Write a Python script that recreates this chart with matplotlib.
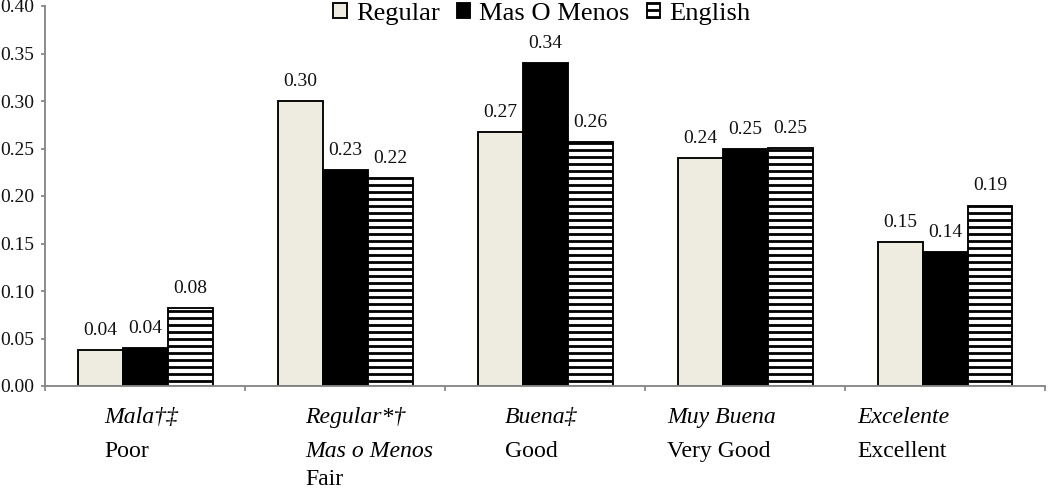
import numpy as np
import matplotlib
matplotlib.use("Agg")
import matplotlib.pyplot as plt
from matplotlib import transforms

# data
spanish_labels = [["Mala†‡"], ["Regular*†", "Mas o Menos"], ["Buena‡"], ["Muy Buena"], ["Excelente"]]
english_labels = ["Poor", "Fair", "Good", "Very Good", "Excellent"]
series_names = ["Regular", "Mas O Menos", "English"]
regular = [0.038, 0.300, 0.267, 0.240, 0.152]
mas_o_menos = [0.040, 0.227, 0.340, 0.249, 0.141]
english = [0.082, 0.219, 0.257, 0.251, 0.190]
y_ticks = [0.00, 0.05, 0.10, 0.15, 0.20, 0.25, 0.30, 0.35, 0.40]

# layout
DPI = 84
W, H = 1050, 489
PX = 72.0 / DPI  # points per pixel
label_shift = [-0.205, -0.20, -0.20, -0.39, -0.44]  # left edge of category text
line_baselines = [423, 457, 485]  # pixels from top

plt.rcParams["font.family"] = ["Liberation Serif", "DejaVu Serif"]
plt.rcParams["hatch.linewidth"] = 2.4

fig = plt.figure(figsize=(W / DPI, H / DPI), dpi=DPI)
ax = fig.add_axes([45 / W, (H - 386) / H, 1000 / W, 380 / H])

x = np.arange(len(english_labels))
bw = 0.225
styles = [
    dict(color="#EEECE1", edgecolor="black"),
    dict(color="black", edgecolor="black"),
    dict(color="white", edgecolor="black", hatch="--"),
]
for k, (vals, name, st) in enumerate(zip([regular, mas_o_menos, english], series_names, styles)):
    pos = x + (k - 1) * bw
    ax.bar(pos, vals, width=bw, linewidth=1.6, label=name, zorder=2, **st)
    for xi, v in zip(pos, vals):
        ax.annotate(f"{v:.2f}", (xi, v), xytext=(0, 11 * PX), textcoords="offset points",
                    ha="center", va="bottom", fontsize=19.5 * PX, color="#111111")

ax.set_xlim(-0.5, 4.5)
ax.set_ylim(0, 0.40)
ax.set_yticks(y_ticks)
ax.set_yticklabels([f"{t:.2f}" for t in y_ticks])
ax.set_xticks(np.arange(-0.5, 5.0, 1.0))
ax.set_xticklabels([])

grey = "#868686"
for s in ["top", "right"]:
    ax.spines[s].set_visible(False)
for s in ["left", "bottom"]:
    ax.spines[s].set_color(grey)
    ax.spines[s].set_linewidth(1.6)
ax.tick_params(axis="y", direction="out", length=4 * PX, width=1.5, color=grey,
               labelsize=19.5 * PX, labelcolor="#111111", pad=7 * PX)
ax.tick_params(axis="x", direction="out", length=5 * PX, width=1.5, color=grey)

# two-language category labels under the axis
trans = transforms.blended_transform_factory(ax.transData, fig.transFigure)
for i in range(len(english_labels)):
    lines = [(t, "italic") for t in spanish_labels[i]] + [(english_labels[i], "normal")]
    for j, (txt, style) in enumerate(lines):
        ax.text(i + label_shift[i], 1 - line_baselines[j] / H, txt, transform=trans,
                ha="left", va="baseline", fontsize=23.8 * PX, style=style, clip_on=False)

fig.legend(loc="upper center", bbox_to_anchor=(542 / W, 1 - 3 / H), ncol=3, frameon=False,
           fontsize=26.5 * PX, handlelength=0.5, handleheight=0.5, handletextpad=0.35,
           columnspacing=0.65, borderpad=0.0, borderaxespad=0.0)

fig.savefig("out.png", dpi=DPI)
